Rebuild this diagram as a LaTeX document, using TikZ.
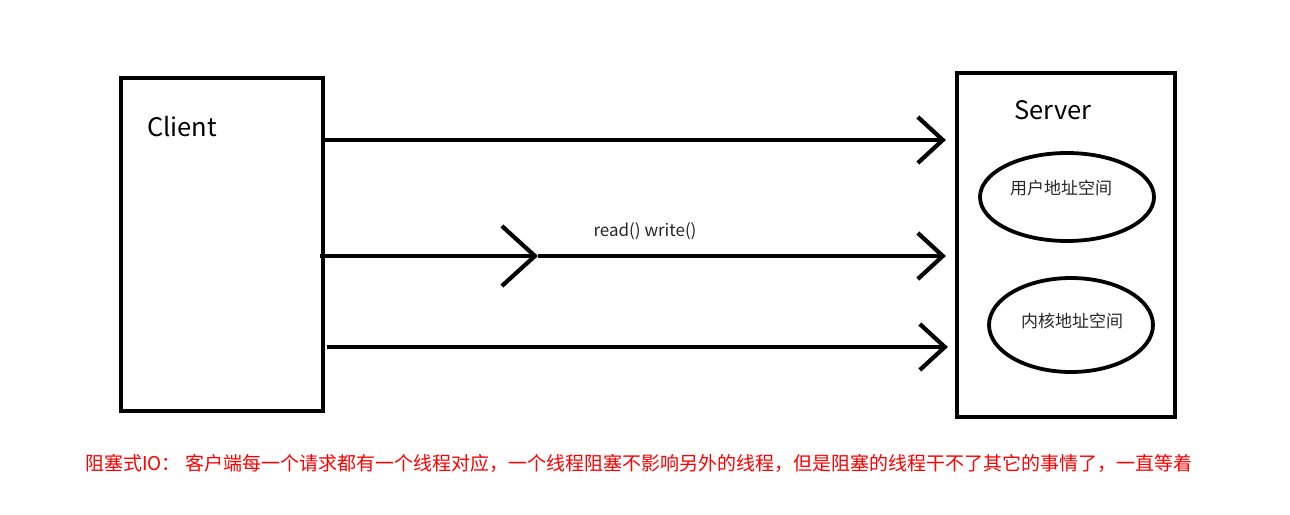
\documentclass[tikz,border=0pt]{standalone}
\usepackage{fontspec}
\setmainfont{Noto Sans CJK SC}
\usetikzlibrary{arrows.meta}
\begin{document}
\begin{tikzpicture}[x=1pt,y=-1pt,
  link/.style={line width=4.2pt,-{Straight Barb[length=25pt,width=46pt,line width=4.2pt]}},
  midlink/.style={line width=4.2pt,-{Straight Barb[length=33pt,width=60pt,line width=4.2pt]}},
  big/.style={font=\fontsize{25.5}{28}\selectfont,inner sep=0pt},
  small/.style={font=\fontsize{17}{19}\selectfont,inner sep=0pt,text=black!85},
  note/.style={font=\fontsize{19}{22}\selectfont,inner sep=0pt,text=red}]
\useasboundingbox (0,0) rectangle (1290,514);
\node[draw=black,line width=4.2pt,minimum width=202pt,minimum height=333pt] (client) at (222,244.5) {};
\node[draw=black,line width=4.2pt,minimum width=218pt,minimum height=344pt] (server) at (1066,245) {};
\node[big] (clab) at (182,127) {Client};
\node[big] (slab) at (1053,110) {Server};
\draw[line width=3.8pt] (1067,197) ellipse [x radius=87, y radius=44];
\node[small] (user) at (1061,188) {用户地址空间};
\draw[line width=3.8pt] (1071,325) ellipse [x radius=82, y radius=47];
\node[small] (kern) at (1072,321) {内核地址空间};
\coordinate (mid) at (538,256);
\draw[link] ([xshift=-3pt,yshift=104.5pt]client.east) -- ([xshift=-9pt,yshift=105pt]server.west);
\draw[midlink] ([xshift=-5pt,yshift=-11.5pt]client.east) -- (mid);
\draw[link] (mid) -- ([xshift=-9pt,yshift=-11pt]server.west);
\draw[link] ([xshift=2pt,yshift=-102.5pt]client.east) -- ([xshift=-7pt,yshift=-102pt]server.west);
\node[small] (rw) at (645,231) {read() write()};
\node[note,anchor=west] (txt) at (85,463) {阻塞式IO：\ 客户端每一个请求都有一个线程对应，一个线程阻塞不影响另外的线程，但是阻塞的线程干不了其它的事情了，一直等着};
\end{tikzpicture}
\end{document}
